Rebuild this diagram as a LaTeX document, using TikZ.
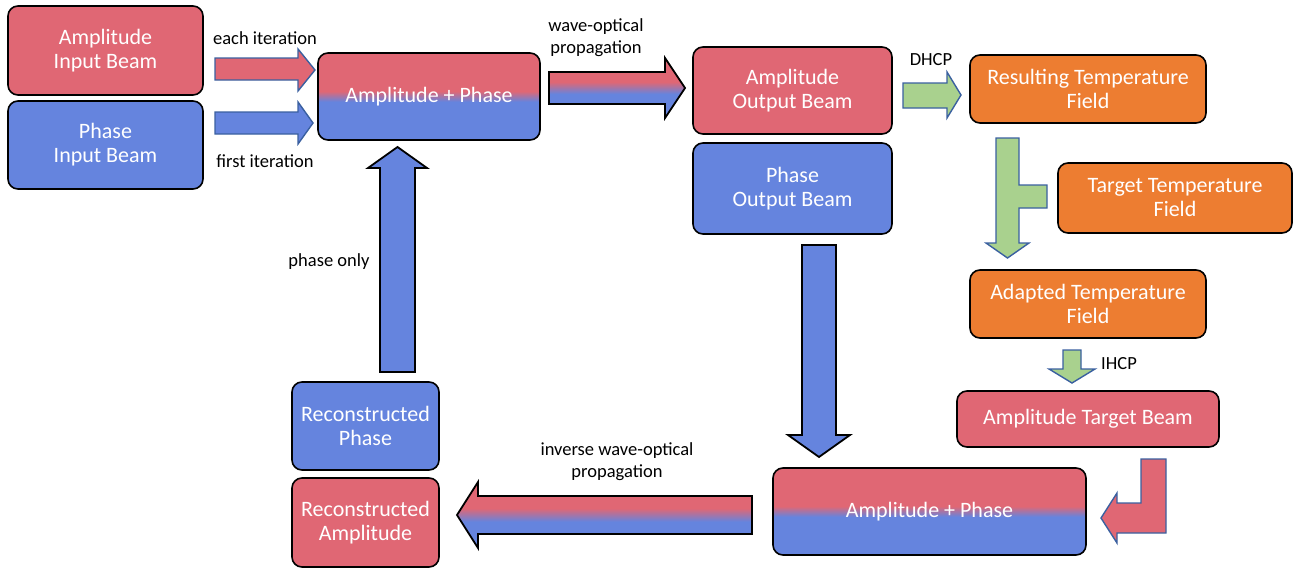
\documentclass[tikz,border=0pt]{standalone}
\usepackage{fontspec}
\setmainfont{Carlito}
\definecolor{cred}{RGB}{224,103,116}
\definecolor{cblue}{RGB}{101,132,222}
\definecolor{corange}{RGB}{237,125,49}
\definecolor{cgreen}{RGB}{169,209,142}
\definecolor{cedge}{RGB}{58,96,160}
\pgfdeclareverticalshading{rbbox}{100bp}{color(0bp)=(cblue); color(47bp)=(cblue); color(53bp)=(cred); color(100bp)=(cred)}
\pgfdeclareverticalshading{rbarrow}{100bp}{color(0bp)=(cblue); color(45bp)=(cblue); color(55bp)=(cred); color(100bp)=(cred)}
\tikzset{
  box/.style={draw=black, line width=1.6pt, rounded corners=10pt, text=white, align=center,
    inner sep=0pt, font=\fontsize{22}{24}\selectfont},
  redbox/.style={box, fill=cred},
  bluebox/.style={box, fill=cblue},
  orangebox/.style={box, fill=corange},
  gradbox/.style={box, shade, shading=rbbox},
  lbl/.style={text=black, align=center, inner sep=0pt, font=\fontsize{18.5}{22}\selectfont},
  thinarrow/.style={draw=cedge, line width=1.4pt, line join=miter},
  bigarrow/.style={draw=black, line width=1.8pt, line join=miter},
}
\begin{document}
\begin{tikzpicture}[x=1pt,y=-1pt]
\useasboundingbox (0,0) rectangle (1294,570);
% boxes
\node[redbox, minimum width=195pt, minimum height=89pt] (ain) at (105.5,50.5) {Amplitude\\Input Beam};
\node[bluebox, minimum width=195pt, minimum height=88pt] (pin) at (105.5,145) {Phase\\Input Beam};
\node[gradbox, minimum width=222pt, minimum height=87pt] (ap1) at (429,96.5) {Amplitude + Phase};
\node[redbox, minimum width=199pt, minimum height=87pt] (aout) at (792.5,90.5) {Amplitude\\Output Beam};
\node[bluebox, minimum width=199pt, minimum height=91pt] (pout) at (792.5,188.5) {Phase\\Output Beam};
\node[orangebox, minimum width=236pt, minimum height=68pt] (rtf) at (1088,89) {Resulting Temperature\\Field};
\node[orangebox, minimum width=234pt, minimum height=70pt] (ttf) at (1175,198) {Target Temperature\\Field};
\node[orangebox, minimum width=236pt, minimum height=68pt] (atf) at (1088,304) {Adapted Temperature\\Field};
\node[redbox, minimum width=262pt, minimum height=56pt] (atb) at (1088,419) {Amplitude Target Beam};
\node[gradbox, minimum width=313pt, minimum height=87pt] (ap2) at (929.5,511.5) {Amplitude + Phase};
\node[bluebox, minimum width=147pt, minimum height=88pt] (rp) at (365.5,426) {Reconstructed\\Phase};
\node[redbox, minimum width=147pt, minimum height=89pt] (ra) at (365.5,522.5) {Reconstructed\\Amplitude};
% labels
\node[lbl] (l1) at (265,38) {each iteration};
\node[lbl] (l2) at (265,161) {first iteration};
\node[lbl] (l3) at (596,38) {wave-optical\\propagation};
\node[lbl] (l4) at (931,60) {DHCP};
\node[lbl] (l5) at (1119,364) {IHCP};
\node[lbl] (l6) at (329,262) {phase only};
\node[lbl] (l7) at (617,462) {inverse wave-optical\\propagation};
% block arrows
\draw[thinarrow, fill=cred] (215,58)--(298,58)--(298,49)--(315,70)--(298,91)--(298,80)--(215,80)--cycle;
\draw[thinarrow, fill=cblue] (215,112)--(298,112)--(298,102)--(313,123)--(298,144)--(298,134)--(215,134)--cycle;
\draw[bigarrow, shade, shading=rbarrow] (549,72)--(665,72)--(665,58)--(685,88)--(665,118)--(665,104)--(549,104)--cycle;
\draw[thinarrow, fill=cgreen] (903,83)--(947,83)--(947,72)--(961,95)--(947,118)--(947,108)--(903,108)--cycle;
\draw[thinarrow, fill=cgreen] (996,138)--(1019,138)--(1019,185)--(1047,185)--(1047,208)--(1019,208)--(1019,243)--(1029,243)--(1007.5,258)--(986,243)--(996,243)--cycle;
\draw[thinarrow, fill=cgreen] (1063,350)--(1081,350)--(1081,369)--(1095,369)--(1072,383)--(1049,369)--(1063,369)--cycle;
\draw[thinarrow, fill=cred] (1141,459)--(1166,459)--(1166,533)--(1117,533)--(1117,543)--(1101,518)--(1117,493)--(1117,503)--(1141,503)--cycle;
\draw[bigarrow, fill=cblue] (802,245)--(836,245)--(836,435)--(850,435)--(819,457)--(788,435)--(802,435)--cycle;
\draw[bigarrow, shade, shading=rbarrow] (752,496)--(478,496)--(478,482)--(457,515)--(478,548)--(478,534)--(752,534)--cycle;
\draw[bigarrow, fill=cblue] (380,372)--(380,168)--(368,168)--(397.5,147)--(427,168)--(415,168)--(415,372)--cycle;
\end{tikzpicture}
\end{document}
